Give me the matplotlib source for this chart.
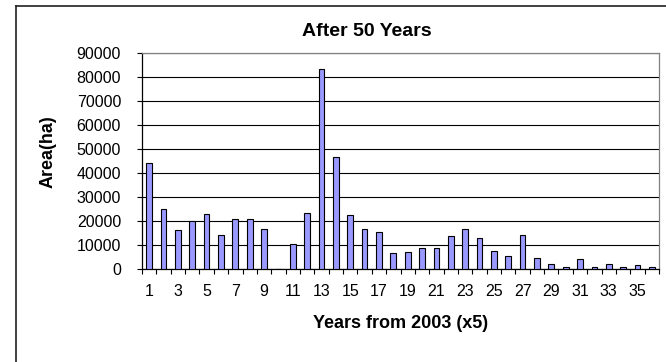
import numpy as np
import matplotlib
matplotlib.use("Agg")
import matplotlib.pyplot as plt
from matplotlib.lines import Line2D

plt.rcParams["font.family"] = ["Liberation Sans", "DejaVu Sans"]

# ---- data ----
periods = list(range(1, 37))
area_ha = [44300, 25000, 16300, 19800, 22900, 14200, 20800, 20800, 16700, 0,
           10300, 23500, 83200, 46500, 22500, 16700, 15300, 6500, 7200, 8600,
           8600, 13700, 16800, 12800, 7600, 5600, 14300, 4600, 2100, 700,
           4200, 700, 2100, 700, 1500, 700]
tick_labels = [str(p) for p in periods[::2]]

W, H = 666, 362
fig = plt.figure(figsize=(W / 100, H / 100), dpi=100)
ax = fig.add_axes([142 / W, 1 - 269 / H, (659 - 142) / W, (269 - 53) / H])

xs = np.arange(len(periods))
ax.bar(xs, area_ha, width=0.4, color="#9999ff", edgecolor="black", linewidth=0.8, zorder=3)

ax.set_xlim(-0.5, len(periods) - 0.5)
ax.set_ylim(0, 90000)
ax.set_yticks(np.arange(0, 90001, 10000))
ax.yaxis.grid(True, color="black", lw=0.8, zorder=0)
ax.tick_params(axis="y", direction="out", length=3.6, width=0.8, pad=11.5, labelsize=11.5)

ax.set_xticks(xs[::2])
ax.set_xticklabels(tick_labels)
ax.set_xticks(np.arange(-0.5, len(periods), 1), minor=True)
ax.tick_params(axis="x", which="major", length=0, pad=11, labelsize=11.5)
ax.tick_params(axis="x", which="minor", direction="out", length=3.5, width=0.8)

for s in ["left", "bottom"]:
    ax.spines[s].set_color("black")
    ax.spines[s].set_linewidth(0.9)
for s in ["right", "top"]:
    ax.spines[s].set_color("#808080")
    ax.spines[s].set_linewidth(0.9)

fig.text(367 / W, 1 - 32 / H, "After 50 Years", ha="center", va="center",
         fontsize=14, fontweight="bold")
fig.text(48 / W, 1 - 152 / H, "Area(ha)", ha="center", va="center",
         rotation=90, fontsize=13, fontweight="bold")
fig.text(401 / W, 1 - 324 / H, "Years from 2003 (x5)", ha="center", va="center",
         fontsize=13, fontweight="bold")

# outer chart frame (cropped on the right/bottom)
fig.add_artist(Line2D([16 / W, 16 / W], [0, 1 - 6 / H], color="#202020", lw=1.2))
fig.add_artist(Line2D([16 / W, 1], [1 - 6 / H, 1 - 6 / H], color="#202020", lw=1.2))

fig.savefig("out.png", dpi=100)
